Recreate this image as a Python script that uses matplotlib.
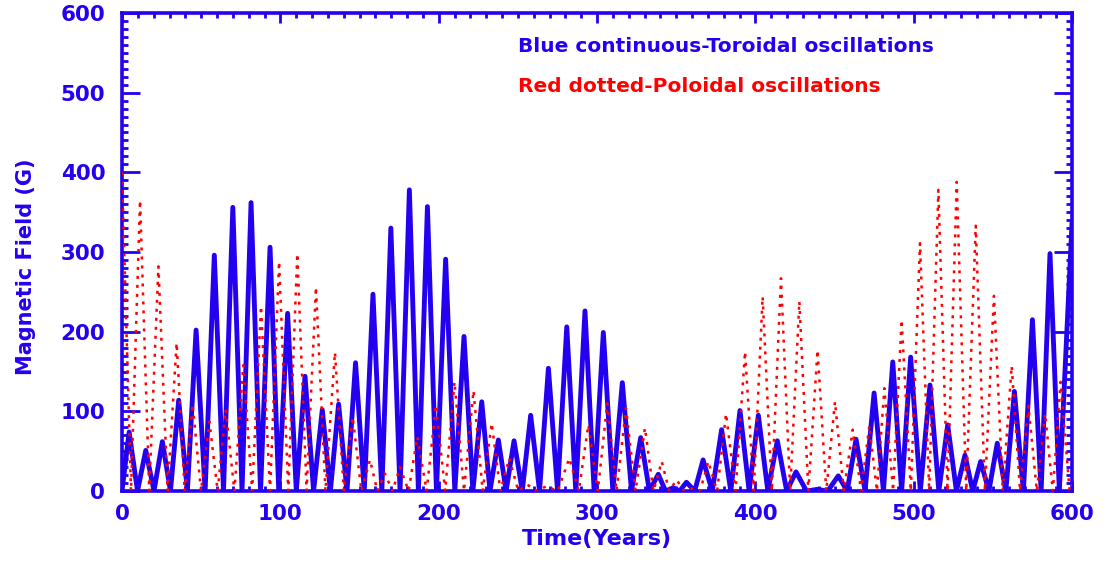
import matplotlib
matplotlib.use("Agg")
import matplotlib.pyplot as plt
from matplotlib.ticker import MultipleLocator
import numpy as np

# Colours (IDL-style blue / red)
BLUE = '#2400f0'
RED = '#ff0000'

# Toroidal field (blue, continuous): peak times, peak values, trough times (years, G)
blue_peak_t = [4.5, 15, 25.5, 35.8, 46.8, 58.3, 70, 81.5, 93.5, 104.6, 115.6, 126.5,
               136.8, 147.5, 158.5, 169.8, 181.5, 192.9, 204.4, 216, 227.2, 237.7,
               247.6, 258.1, 269.3, 280.9, 292.4, 304, 316, 327.6, 338.7, 348, 356.5,
               367, 378.7, 390.3, 401.9, 413.9, 425.7, 439, 452.4, 463.6, 475, 486.8,
               498.1, 510.3, 521.5, 532.4, 542.3, 552.8, 563.6, 575, 586.1, 600]
blue_peak_b = [74, 51, 62, 114, 202, 296, 356, 362, 306, 223, 144, 102,
               109, 161, 247, 330, 378, 357, 291, 194, 112, 64,
               63, 95, 154, 206, 226, 199, 136, 67, 21, 4, 11,
               39, 77, 101, 95, 63, 24, 2, 19, 65, 123, 162,
               168, 133, 83, 45, 37, 60, 125, 215, 298, 336]
blue_zero_t = [0, 9.8, 20.2, 30.6, 41.3, 52.5, 64.1, 75.8, 87.5, 99, 110.1, 121,
               131.6, 142.1, 153, 164.1, 175.6, 187.2, 198.6, 210.2, 221.6, 232.4,
               242.6, 252.8, 263.7, 275.1, 286.6, 298.2, 310, 321.8, 333.1, 343.3,
               352.2, 361.7, 372.8, 384.5, 396.1, 407.9, 419.8, 432.3, 445.7, 458,
               469.3, 480.9, 492.4, 504.2, 515.9, 527, 537.3, 547.5, 558.2, 569.3,
               580.5, 592]

# Poloidal field (red, dotted)
red_peak_t = [0, 11.4, 23, 34.5, 44.6, 55.2, 65.5, 76.6, 87.8, 99.2, 110.7, 122.5,
              134.5, 145.7, 156.6, 166, 175.6, 186.5, 198.3, 210, 222, 233.5, 244.6,
              256, 268, 282.5, 294.5, 306.5, 318.3, 330.3, 340.9, 350.3, 360, 370.3,
              381.5, 393.5, 404.6, 416.2, 427.8, 439.3, 450.3, 461.5, 472, 481.5,
              492.4, 504, 515.6, 527.2, 539.2, 550.7, 561.9, 572.5, 583, 592.8, 600]
red_peak_b = [400, 365, 282, 186, 109, 87, 102, 158, 232, 288, 298, 256,
              174, 93, 39, 22, 30, 68, 108, 137, 126, 85, 41,
              8, 6, 41, 83, 110, 104, 79, 37, 14, 3, 37,
              97, 175, 244, 267, 238, 177, 112, 77, 82, 129,
              215, 311, 378, 388, 333, 245, 157, 107, 97, 137, 8]
red_zero_t = [5.7, 17.2, 28.8, 39.6, 49.9, 60.4, 71, 82.2, 93.5, 105, 116.6, 128.5,
              140.1, 151.2, 161.3, 170.8, 181, 192.4, 204.1, 216, 227.8, 239, 250.3,
              262, 275.2, 288.5, 300.5, 312.4, 324.3, 335.6, 345.6, 355.1, 365.1,
              375.9, 387.5, 399, 410.4, 422, 433.5, 444.8, 455.9, 466.8, 476.8,
              487, 498.2, 509.8, 521.4, 533.2, 545, 556.3, 567.2, 577.8, 587.9, 598.5]


def merge(peak_t, peak_v, zero_t):
    t = np.array(list(peak_t) + list(zero_t), dtype=float)
    v = np.array(list(peak_v) + [0.0] * len(zero_t), dtype=float)
    order = np.argsort(t, kind='stable')
    return t[order], v[order]


plt.rcParams['font.family'] = 'DejaVu Sans'
plt.rcParams['font.weight'] = 'bold'

fig = plt.figure(figsize=(11.06, 5.72), dpi=100)
ax = fig.add_axes([122 / 1106, 1 - 491 / 572, 950 / 1106, 478 / 572])

bt, bv = merge(blue_peak_t, blue_peak_b, blue_zero_t)
rt, rv = merge(red_peak_t, red_peak_b, red_zero_t)

ax.plot(bt, bv, color=BLUE, linewidth=3.5, solid_joinstyle='round', zorder=2)
ax.plot(rt, rv, color=RED, linewidth=1.8, linestyle=(0, (1.2, 2.4)), zorder=3)

ax.set_xlim(0, 600)
ax.set_ylim(0, 600)

ax.xaxis.set_major_locator(MultipleLocator(100))
ax.xaxis.set_minor_locator(MultipleLocator(10))
ax.yaxis.set_major_locator(MultipleLocator(100))
ax.yaxis.set_minor_locator(MultipleLocator(10))

for s in ax.spines.values():
    s.set_color(BLUE)
    s.set_linewidth(2.6)

ax.tick_params(axis='both', which='both', direction='in', colors=BLUE,
               top=True, right=True, width=2.0, labelsize=15.5)
ax.tick_params(axis='x', which='major', length=7, pad=9)
ax.tick_params(axis='x', which='minor', length=3.5)
ax.tick_params(axis='y', which='major', length=13, pad=12)
ax.tick_params(axis='y', which='minor', length=4.5)

ax.set_xlabel('Time(Years)', color=BLUE, fontsize=16, fontweight='bold', labelpad=4)
ax.set_ylabel('Magnetic Field (G)', color=BLUE, fontsize=15, fontweight='bold')
ax.yaxis.set_label_coords(-0.09, 0.47)

fig.text(518 / 1106, 1 - 46 / 572, 'Blue continuous-Toroidal oscillations',
         color=BLUE, fontsize=14.5, fontweight='bold', va='center', ha='left')
fig.text(518 / 1106, 1 - 86 / 572, 'Red dotted-Poloidal oscillations',
         color=RED, fontsize=14.5, fontweight='bold', va='center', ha='left')

fig.savefig('out.png', dpi=100)
